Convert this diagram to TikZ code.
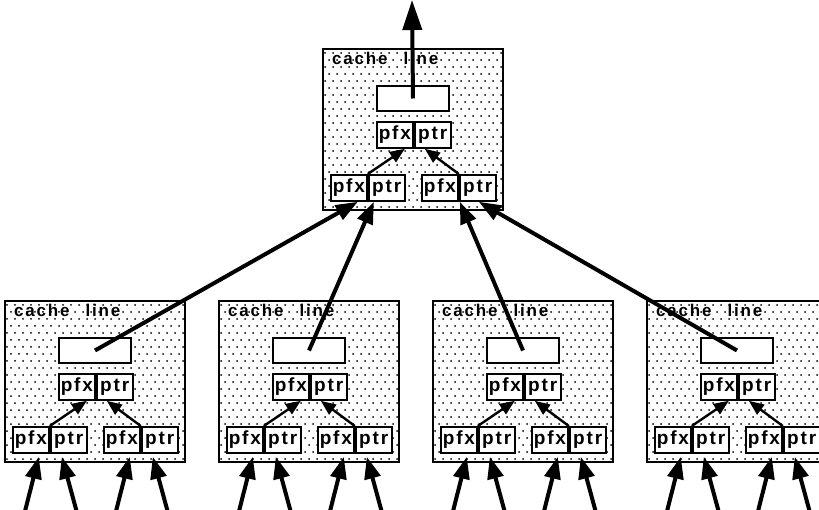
\documentclass[tikz,border=0pt]{standalone}
\usepackage{fontspec}
\setmainfont{Liberation Sans}
\usetikzlibrary{arrows.meta,calc}
\newcommand\lsp{\kern1.8pt}
\newcommand\pfxtxt{p\lsp f\lsp x}
\newcommand\ptrtxt{p\lsp t\lsp r}
\tikzset{
  outerbox/.style={draw=black, line width=2.4pt, minimum width=180pt, minimum height=161pt, inner sep=0pt, anchor=north west},
  rectbox/.style={draw=black, fill=white, line width=2pt, minimum width=72pt, minimum height=25pt, inner sep=0pt, anchor=north west},
  halfbox/.style={draw=black, fill=white, line width=1.8pt, minimum width=36pt, minimum height=26pt, inner sep=0pt, font=\fontsize{19pt}{19pt}\selectfont\bfseries},
  lbl/.style={inner sep=0pt, anchor=base west, font=\fontsize{17pt}{17pt}\selectfont\bfseries},
  smallarrow/.style={line width=2.4pt, -{Triangle[length=15pt,width=12pt]}},
  bigarrow/.style={line width=4pt, -{Triangle[length=22pt,width=16pt]}},
  uparrow/.style={line width=4pt, -{Triangle[length=30pt,width=19pt]}},
}
\newcommand\cacheunit[3]{%
  \begin{scope}[shift={(#2,#3)}]
    \begin{scope}
      \clip (0,0) rectangle (180,161);
      \foreach \j in {0,...,23} {
        \foreach \i in {0,...,23} {
          \fill ({3+\i*8+mod(\j,2)*4},{5+\j*7}) circle (1pt);
        }
      }
    \end{scope}
    \node[outerbox] (#1) at (0,0) {};
    \node[lbl] (#1-t) at (10,17) {c\lsp a\lsp c\lsp h\lsp e\hspace{16pt}l\lsp i\lsp n\lsp e};
    \node[rectbox] (#1-r) at (54,37) {};
    \node[halfbox, anchor=north west] (#1-mp) at (54,73) {\pfxtxt};
    \node[halfbox, anchor=north west] (#1-mq) at (#1-mp.north east) {\ptrtxt};
    \node[halfbox, anchor=north west] (#1-lp) at (8,126) {\pfxtxt};
    \node[halfbox, anchor=north west] (#1-lq) at (#1-lp.north east) {\ptrtxt};
    \node[halfbox, anchor=north west] (#1-rp) at (99,126) {\pfxtxt};
    \node[halfbox, anchor=north west] (#1-rq) at (#1-rp.north east) {\ptrtxt};
    \draw[smallarrow] (#1-lp.north east) -- ($(#1-mp.south east)+(-9,0)$);
    \draw[smallarrow] (#1-rp.north east) -- ($(#1-mq.south west)+(11,0)$);
  \end{scope}
}
\newcommand\inputarrows[1]{%
  \foreach \b in {lp,rp} {
    \coordinate (#1-\b-ta) at ($(#1-\b.south east)+(-25,0)$);
    \coordinate (#1-\b-tb) at ($(#1-\b.south east)+(27,0)$);
    \draw[bigarrow] (#1-\b-ta |- 0,512) -- ($(#1-\b.south east)+(-11,3)$);
    \draw[bigarrow] (#1-\b-tb |- 0,512) -- ($(#1-\b.south east)+(12,3)$);
  }
}
\begin{document}
\begin{tikzpicture}[x=1pt,y=-1pt]
  \useasboundingbox[fill=white] (0,0) rectangle (819,510);
  \cacheunit{T}{322}{48}
  \cacheunit{Ba}{4}{300}
  \cacheunit{Bb}{218}{300}
  \cacheunit{Bc}{432}{300}
  \cacheunit{Bd}{646}{300}
  \coordinate (out) at (412,0);
  \draw[uparrow] (T-r.center) -- (out);
  \draw[bigarrow] (Ba-r.center) -- ($(T-lp.south east)+(-10,0)$);
  \draw[bigarrow] (Bb-r.center) -- ($(T-lp.south east)+(6,0)$);
  \draw[bigarrow] (Bc-r.center) -- ($(T-rp.south east)+(1,0)$);
  \draw[bigarrow] (Bd-r.center) -- ($(T-rp.south east)+(20,0)$);
  \inputarrows{Ba}
  \inputarrows{Bb}
  \inputarrows{Bc}
  \inputarrows{Bd}
\end{tikzpicture}
\end{document}
